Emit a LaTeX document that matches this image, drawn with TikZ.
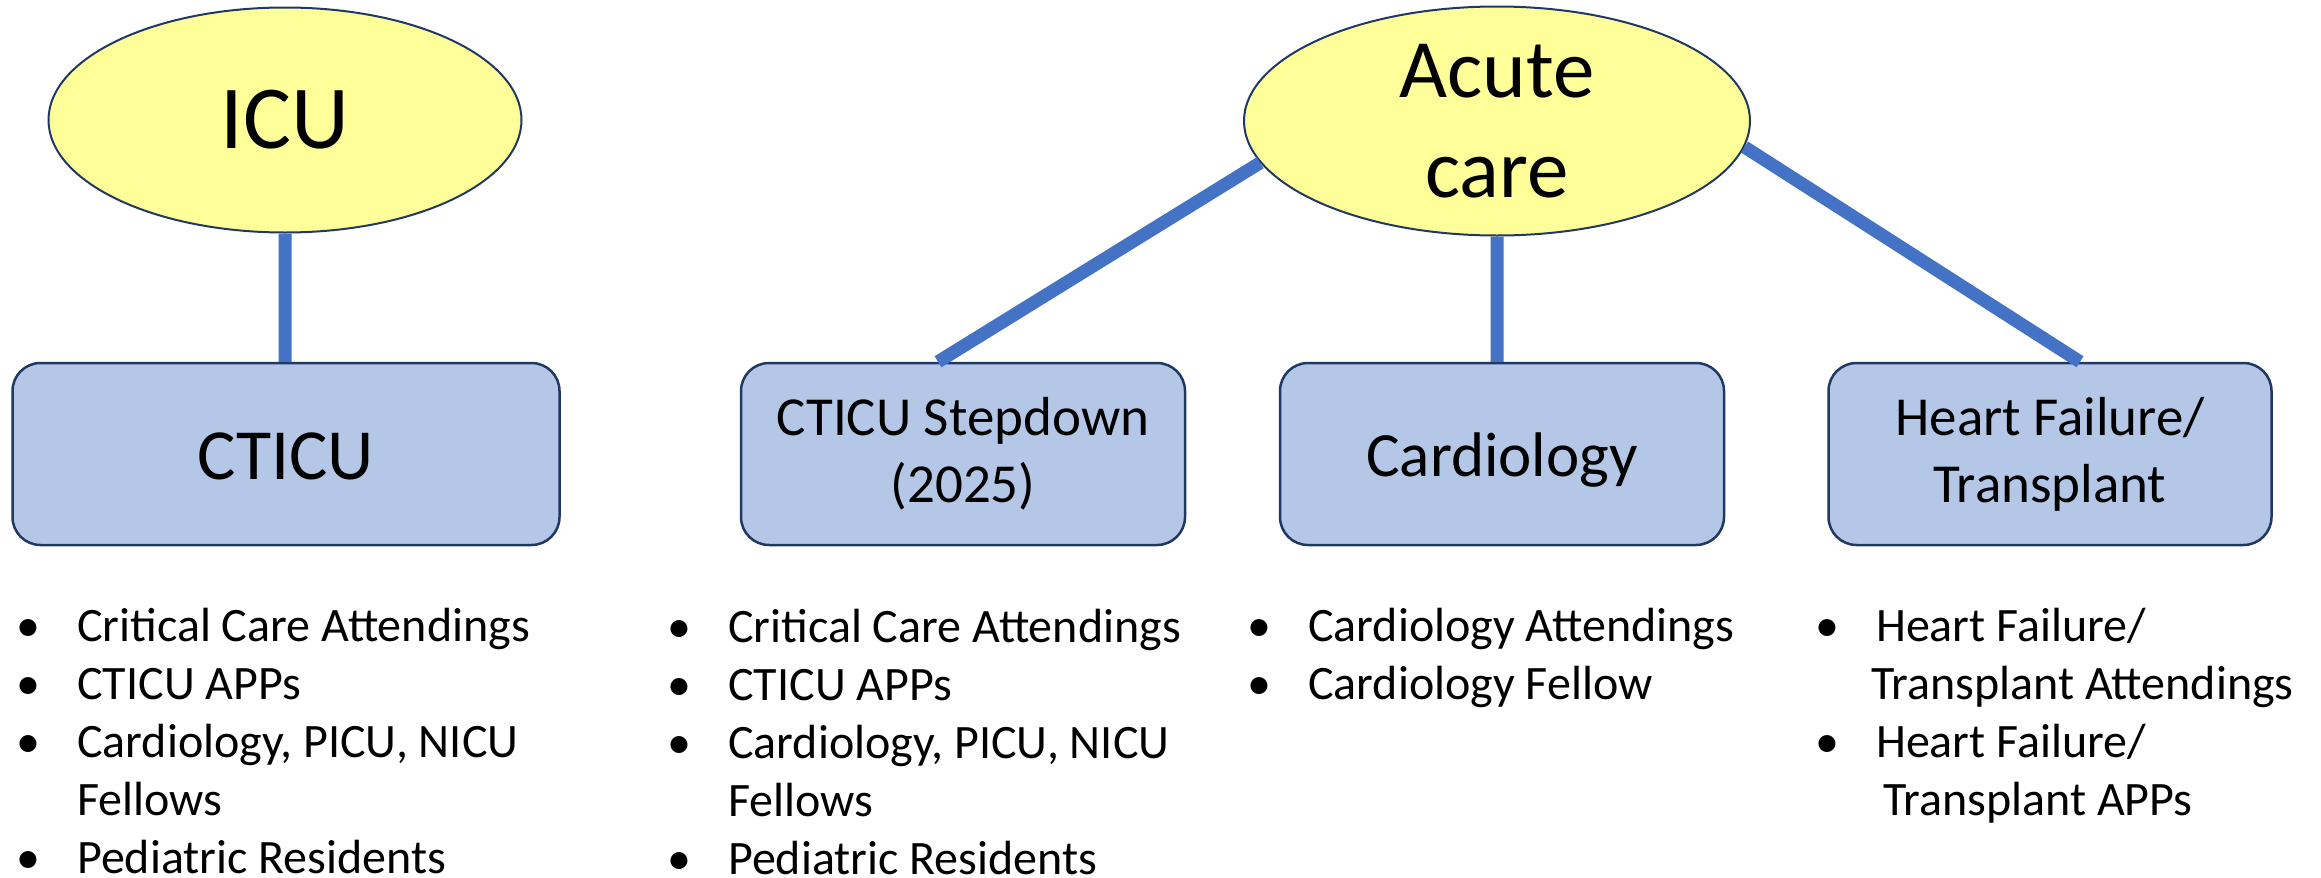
\documentclass[tikz,border=0pt]{standalone}
\usepackage{fontspec}
\setmainfont{Carlito}
\usetikzlibrary{positioning, shapes.geometric}
\definecolor{hubfill}{HTML}{FFFF99}
\definecolor{navyline}{HTML}{203864}
\definecolor{unitfill}{HTML}{B4C7E7}
\definecolor{linkblue}{HTML}{4472C4}
\newcommand{\stafflist}[1]{\begin{tabular}[t]{@{}p{61pt}@{}l@{}}#1\end{tabular}}

\begin{document}
\begin{tikzpicture}[x=1pt, y=-1pt, inner sep=0pt,
    hub/.style={ellipse, draw=navyline, line width=2pt, fill=hubfill, align=center},
    unit/.style={rectangle, rounded corners=28pt, draw=navyline, line width=2.5pt,
        fill=unitfill, align=center, minimum width=444pt, minimum height=182pt},
    link/.style={draw=linkblue, line width=13pt},
    staff/.style={anchor=base west, font=\fontsize{48}{58}\selectfont}]
                \useasboundingbox (0,0) rectangle (2321,878);

                % CARE LEVELS
                \node[hub, minimum width=473pt, minimum height=225pt, font=\fontsize{90}{108}\selectfont] (icu) at (285,120) {ICU};
                \node[hub, minimum width=506pt, minimum height=229pt, font=\fontsize{83}{100}\selectfont] (acute) at (1497,121) {Acute\\care};

                % UNITS
                \node[unit, minimum width=547pt, font=\fontsize{72}{86}\selectfont, text height=51pt, text depth=0pt] (cticu) at (286,454) {CTICU};
                \node[unit, font=\fontsize{55}{67}\selectfont] (stepdown) at (963,454) {CTICU Stepdown\\(2025)};
                \node[unit, font=\fontsize{63}{76}\selectfont, text height=44pt, text depth=0pt] (cardio) at (1502,454) {Cardiology};
                \node[unit, minimum width=443pt, font=\fontsize{55}{67}\selectfont] (hf) at (2050,454) {Heart Failure/\\Transplant};

                % LINKS
                \path[link]
                    (icu.south) -- (icu.south |- cticu.north)
                    (acute.190) -- ([xshift=-25pt] stepdown.north)
                    (acute.south) -- (acute.south |- cardio.north)
                    (acute.354) -- ([xshift=30pt] hf.north);

                % STAFF
                \node[staff] (cticustaff) at (16,641) {\stafflist{
                    \textbullet & Critical Care Attendings\\
                    \textbullet & CTICU APPs\\
                    \textbullet & Cardiology, PICU, NICU\\
                                & Fellows\\
                    \textbullet & Pediatric Residents}};
                \node[staff] (stepdownstaff) at (667,642) {\stafflist{
                    \textbullet & Critical Care Attendings\\
                    \textbullet & CTICU APPs\\
                    \textbullet & Cardiology, PICU, NICU\\
                                & Fellows\\
                    \textbullet & Pediatric Residents}};
                \node[staff] (cardiostaff) at (1247,641) {\stafflist{
                    \textbullet & Cardiology Attendings\\
                    \textbullet & Cardiology Fellow}};
                \node[staff] (hfstaff) at (1815,641) {\stafflist{
                    \textbullet & Heart Failure/\\
                                & \hspace*{-5pt}Transplant Attendings\\
                    \textbullet & Heart Failure/\\
                                & \hspace*{7pt}Transplant APPs}};

            \end{tikzpicture}
\end{document}
